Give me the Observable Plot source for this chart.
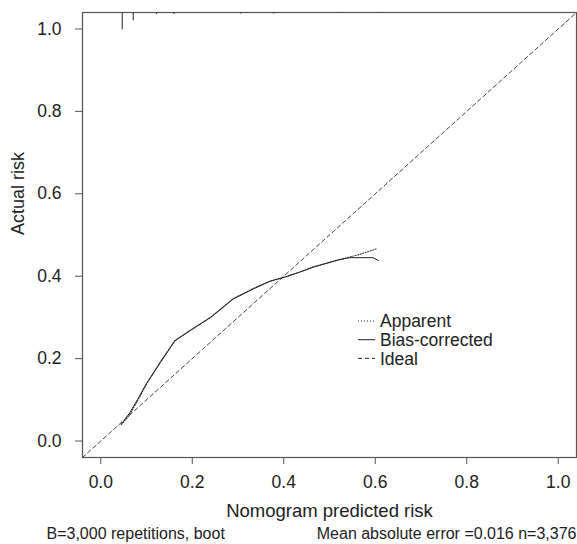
<!DOCTYPE html>
<html>
<head>
<meta charset="utf-8">
<script src="https://cdn.jsdelivr.net/npm/d3@7"></script>
<script src="https://cdn.jsdelivr.net/npm/@observablehq/plot@0.6"></script>
<style>
  html, body { margin: 0; padding: 0; background: #fff; }
</style>
</head>
<body>
<div id="chart"></div>
<script>
// ---- data ----
const biasX = [0.045, 0.063, 0.080, 0.100, 0.130, 0.162, 0.195, 0.240, 0.290, 0.335, 0.370, 0.400, 0.435, 0.465, 0.520, 0.545, 0.595, 0.607];
const biasY = [0.041, 0.068, 0.100, 0.140, 0.190, 0.243, 0.268, 0.300, 0.345, 0.370, 0.388, 0.397, 0.410, 0.422, 0.440, 0.445, 0.445, 0.438];

const apparentX = [0.045, 0.063, 0.080, 0.100, 0.130, 0.162, 0.195, 0.240, 0.290, 0.335, 0.370, 0.400, 0.435, 0.465, 0.529, 0.566, 0.602];
const apparentY = [0.040, 0.064, 0.097, 0.138, 0.192, 0.244, 0.268, 0.300, 0.346, 0.371, 0.388, 0.397, 0.410, 0.423, 0.442, 0.453, 0.466];

const idealX = [-0.04, 1.04];
const idealY = [-0.04, 1.04];

// distribution of predicted risk (spikes hanging from the top)
const rugX = [0.047, 0.071, 0.122, 0.160, 0.306, 0.378, 0.529, 0.606];
const rugFreq = [1.0, 0.47, 0.12, 0.12, 0.08, 0.08, 0.06, 0.06];

const xTicks = [0, 0.2, 0.4, 0.6, 0.8, 1.0];
const yTicks = [0, 0.2, 0.4, 0.6, 0.8, 1.0];

const xLabel = "Nomogram predicted risk";
const yLabel = "Actual risk";
const footLeft = "B=3,000 repetitions, boot";
const footRight = "Mean absolute error =0.016 n=3,376";
const legendLabels = ["Apparent", "Bias-corrected", "Ideal"];
const legendDash = ["1,2", null, "4,3"];

const domain = [-0.04, 1.04];

// ---- tables ----
const bias = biasX.map((x, i) => ({x, y: biasY[i]}));
const apparent = apparentX.map((x, i) => ({x, y: apparentY[i]}));
const ideal = idealX.map((x, i) => ({x, y: idealY[i]}));
const rug = rugX.map((x, i) => ({x, f: rugFreq[i]}));

const ink = "#222";
const frameInk = "#555";

function legendMark() {
  const g = d3.create("svg:g")
    .attr("font-family", "'Liberation Sans', Arial, sans-serif")
    .attr("font-size", 17.5)
    .attr("text-anchor", "start")
    .attr("fill", ink);
  legendLabels.forEach((lab, i) => {
    const cy = 321 + i * 18.7;
    const ln = g.append("line")
      .attr("x1", 358).attr("x2", 375)
      .attr("y1", cy).attr("y2", cy)
      .attr("stroke", ink).attr("stroke-width", 1);
    if (legendDash[i]) ln.attr("stroke-dasharray", legendDash[i]);
    g.append("text")
      .attr("x", 380).attr("y", cy)
      .attr("dy", "0.35em")
      .attr("text-anchor", "start")
      .text(lab);
  });
  return g.node();
}

const chart = Plot.plot({
  width: 577,
  height: 544,
  marginTop: 12,
  marginBottom: 87,
  marginLeft: 82,
  marginRight: 1,
  style: {
    fontFamily: "'Liberation Sans', Arial, sans-serif",
    fontSize: "17.5px",
    color: ink,
    background: "#fff",
    overflow: "visible"
  },
  x: {domain},
  y: {domain},
  marks: [
    Plot.axisX({ticks: xTicks, tickFormat: d3.format(".1f"), tickSize: 7, tickPadding: 11, stroke: frameInk, label: null}),
    Plot.axisY({ticks: yTicks, tickFormat: d3.format(".1f"), tickSize: 7, tickPadding: 14, stroke: frameInk, label: null}),
    Plot.frame({stroke: frameInk, strokeWidth: 1.2}),
    Plot.ruleX(rug, {x: "x", y1: domain[1], y2: d => domain[1] - d.f * 0.042, stroke: "#444", strokeWidth: 1.2}),
    Plot.line(ideal, {x: "x", y: "y", stroke: "#444", strokeWidth: 1, strokeDasharray: "4,3"}),
    Plot.line(apparent, {x: "x", y: "y", stroke: "#333", strokeWidth: 1.1, strokeDasharray: "1,1.6"}),
    Plot.line(bias, {x: "x", y: "y", stroke: "#222", strokeWidth: 1}),
    Plot.text([xLabel], {text: d => d, frameAnchor: "bottom", lineAnchor: "bottom", dy: 59, fill: ink, fontSize: 18.5}),
    Plot.text([yLabel], {text: d => d, frameAnchor: "left", rotate: -90, dx: -64, fill: ink, fontSize: 18}),
    Plot.text([footLeft], {text: d => d, frameAnchor: "bottom-left", textAnchor: "start", lineAnchor: "bottom", dx: -36, dy: 81, fill: ink, fontSize: 16}),
    Plot.text([footRight], {text: d => d, frameAnchor: "bottom-right", textAnchor: "end", lineAnchor: "bottom", dy: 81, fill: ink, fontSize: 16}),
    legendMark
  ]
});

document.getElementById("chart").appendChild(chart);
</script>
</body>
</html>
